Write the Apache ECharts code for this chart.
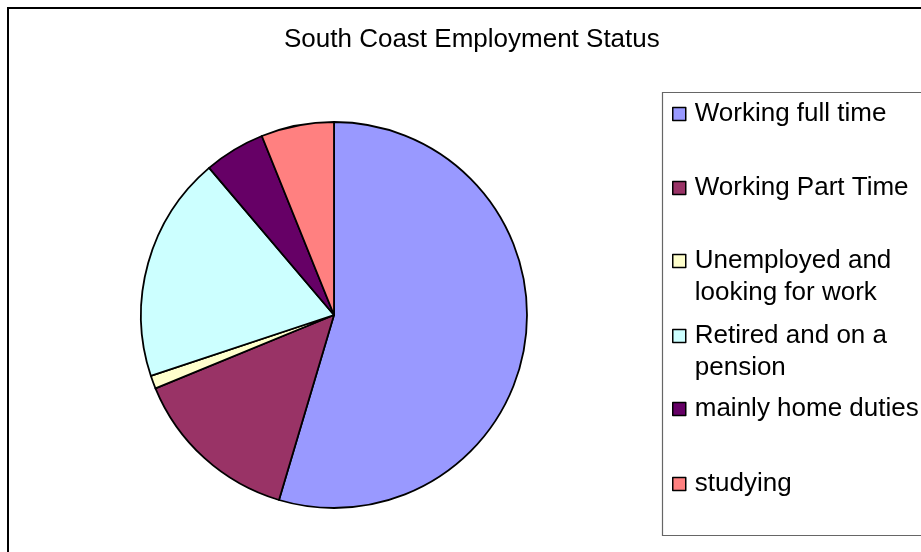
<!DOCTYPE html>
<html>
<head>
<meta charset="utf-8">
<script src="https://cdn.jsdelivr.net/npm/echarts@6/dist/echarts.min.js"></script>
<style>
html,body{margin:0;padding:0;background:#fff;}
#chart{width:921px;height:552px;}
</style>
</head>
<body>
<div id="chart"></div>
<script>
// 数据
var titleText = 'South Coast Employment Status';
var categories = ['Working full time', 'Working Part Time', 'Unemployed and\nlooking for work', 'Retired and on a\npension', 'mainly home duties', 'studying'];
var values = [54.6, 14.2, 1.1, 18.9, 5.1, 6.1];
var colors = ['#9999FF', '#993366', '#FFFFCC', '#CCFFFF', '#660066', '#FF8080'];

// 图例每项的中心位置 (y)
var legendCenters = [114, 188, 261, 336, 409, 484];

var font = 'Arial, "Liberation Sans", sans-serif';

var pieData = [];
for (var i = 0; i < categories.length; i++) {
	pieData.push({name: categories[i], value: values[i], itemStyle: {color: colors[i]}});
}

var legends = [];
for (var i = 0; i < categories.length; i++) {
	var twoLine = categories[i].indexOf('\n') >= 0;
	legends.push({
		data: [categories[i]],
		orient: 'vertical',
		left: 672,
		top: twoLine ? legendCenters[i] - 48 : legendCenters[i] - 16,
		padding: 0,
		itemWidth: 13,
		itemHeight: 13,
		icon: 'rect',
		selectedMode: false,
		// 两行的图例: 前面加一个空行, 让图标对齐第一行
		formatter: function (name) {
			return name.indexOf('\n') >= 0 ? ' \n' + name : name;
		},
		itemStyle: {borderColor: '#000', borderWidth: 1.5},
		textStyle: {
			fontFamily: font,
			fontSize: 26,
			color: '#000',
			lineHeight: 32,
			padding: [0, 0, 0, 4]
		}
	});
}

var myChart = echarts.init(document.getElementById('chart'));
var option = {
	backgroundColor: '#fff',
	animation: false,
	title: {
		text: titleText,
		left: 284,
		top: 27,
		padding: 0,
		textStyle: {fontFamily: font, fontSize: 26, fontWeight: 'normal', color: '#000'}
	},
	legend: legends,
	graphic: [
		// 外框 (只看到左边和上边)
		{type: 'polyline', shape: {points: [[8, 1000], [8, 8], [1000, 8]]}, style: {fill: null, stroke: '#000', lineWidth: 2}, silent: true},
		// 图例框 (右边被裁掉)
		{type: 'polyline', shape: {points: [[1000, 92.5], [662.5, 92.5], [662.5, 535.5], [1000, 535.5]]}, style: {fill: null, stroke: '#666', lineWidth: 1.2}, silent: true}
	],
	series: [{
		type: 'pie',
		center: [334, 315],
		radius: 193,
		startAngle: 90,
		clockwise: true,
		label: {show: false},
		labelLine: {show: false},
		emphasis: {disabled: true},
		itemStyle: {borderColor: '#000', borderWidth: 1.8},
		data: pieData
	}]
};
myChart.setOption(option);
</script>
</body>
</html>
